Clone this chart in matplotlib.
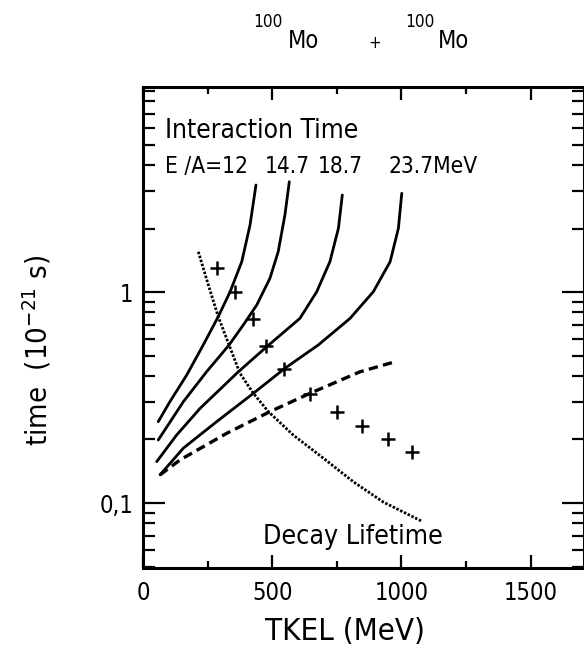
import matplotlib.pyplot as plt
import numpy as np
from matplotlib.ticker import FuncFormatter, LogLocator, MultipleLocator, NullFormatter

plt.rcParams["font.family"] = ["DejaVu Sans"]
plt.rcParams["font.stretch"] = "condensed"

# interaction time curves (TKEL in MeV, time in 1e-21 s), one per E/A
tkel_12 = [59, 104, 169, 233, 291, 337, 382, 414, 437]
time_12 = [0.243, 0.302, 0.404, 0.561, 0.764, 1.003, 1.392, 2.077, 3.215]
tkel_147 = [59, 156, 246, 333, 388, 440, 491, 523, 549, 566]
time_147 = [0.199, 0.302, 0.419, 0.561, 0.698, 0.868, 1.161, 1.552, 2.317, 3.333]
tkel_187 = [53, 130, 221, 369, 479, 607, 672, 723, 756, 771]
time_187 = [0.157, 0.210, 0.281, 0.419, 0.551, 0.750, 1.003, 1.392, 2.004, 2.883]
tkel_237 = [66, 156, 285, 427, 549, 678, 801, 891, 956, 988, 1001]
time_237 = [0.136, 0.182, 0.243, 0.331, 0.435, 0.561, 0.750, 1.003, 1.392, 2.004, 2.937]

# dashed curve
tkel_dash = [66, 143, 324, 491, 646, 840, 975]
time_dash = [0.136, 0.160, 0.214, 0.271, 0.331, 0.419, 0.467]

# decay lifetime (dotted)
tkel_decay = [214, 253, 291, 333, 375, 427, 485, 581, 698, 814, 930, 1078]
time_decay = [1.552, 1.079, 0.764, 0.561, 0.412, 0.331, 0.271, 0.210, 0.163, 0.126, 0.101, 0.082]

# crosses
tkel_pts = [285, 356, 424, 476, 546, 646, 749, 846, 949, 1040]
time_pts = [1.304, 1.003, 0.745, 0.556, 0.432, 0.329, 0.271, 0.232, 0.200, 0.175]

ea_labels = ["E /A=12", "14.7", "18.7", "23.7MeV"]
ea_label_x = [0.144, 0.3265, 0.4467, 0.6576]

fig = plt.figure(figsize=(5.84, 6.64), dpi=100)
ax = fig.add_axes([143 / 584, 1 - 568 / 664, 441 / 584, 481 / 664])

for x, y in [(tkel_12, time_12), (tkel_147, time_147),
             (tkel_187, time_187), (tkel_237, time_237)]:
    ax.plot(x, y, color="black", lw=2.0, solid_capstyle="round")
ax.plot(tkel_dash, time_dash, color="black", lw=2.4, dashes=(2.8, 1.6))
ax.plot(tkel_decay, time_decay, color="black", lw=2.0, linestyle=(0, (0.9, 0.6)))
ax.plot(tkel_pts, time_pts, "+", color="black", ms=10, mew=1.8)

ax.set_yscale("log")
ax.set_xlim(0, 1706)
ax.set_ylim(0.0492, 9.37)

ax.xaxis.set_major_locator(MultipleLocator(500))
ax.xaxis.set_minor_locator(MultipleLocator(250))
ax.yaxis.set_major_locator(LogLocator(base=10))
ax.yaxis.set_minor_locator(LogLocator(base=10, subs=np.arange(2, 10)))
ax.yaxis.set_minor_formatter(NullFormatter())
ylab = {0.1: "0,1", 1.0: "1", 10.0: "10"}
ax.yaxis.set_major_formatter(FuncFormatter(lambda v, p: ylab.get(round(v, 3), "")))

ax.tick_params(which="both", direction="in", top=True, right=True, width=1.6)
ax.tick_params(axis="x", which="major", length=9.5, labelsize=17, pad=9)
ax.tick_params(axis="x", which="minor", length=5)
ax.tick_params(axis="y", which="major", length=16, labelsize=17, pad=7)
ax.tick_params(axis="y", which="minor", length=8.5)
for s in ax.spines.values():
    s.set_linewidth(2.2)

ax.set_xlabel("TKEL (MeV)", fontsize=22.4, va="center")
ax.xaxis.set_label_coords(0.458, -0.133)
ax.set_ylabel("time  (10$^{-21}$ s)", fontsize=21, va="center")
ax.yaxis.set_label_coords(-0.24, 0.453)

ax.text(0.05, 0.9085, "Interaction Time", transform=ax.transAxes,
        fontsize=18.9, ha="left", va="center")
for lab, xf in zip(ea_labels, ea_label_x):
    ax.text(xf, 0.834, lab, transform=ax.transAxes, fontsize=16.3,
            ha="center", va="center")
ax.text(0.476, 0.0644, "Decay Lifetime", transform=ax.transAxes,
        fontsize=19.2, ha="center", va="center")

# reaction title
fig.text(253 / 584, 1 - 22 / 664, "100", fontsize=12.3, ha="left", va="center")
fig.text(288 / 584, 1 - 41 / 664, "Mo", fontsize=17, ha="left", va="center")
fig.text(375 / 584, 1 - 43 / 664, "+", fontsize=12, ha="center", va="center")
fig.text(405 / 584, 1 - 22 / 664, "100", fontsize=12.3, ha="left", va="center")
fig.text(438 / 584, 1 - 41 / 664, "Mo", fontsize=17, ha="left", va="center")

fig.savefig("out.png", dpi=100)
